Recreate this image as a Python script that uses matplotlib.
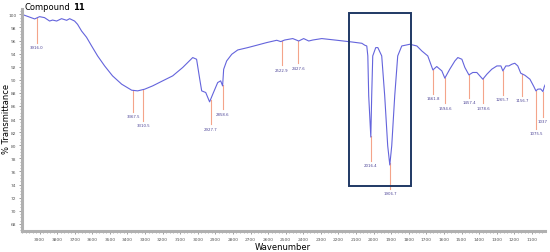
"""FT-IR spectrum of compound 11 with labelled peaks."""
import numpy as np
import matplotlib
matplotlib.use("Agg")
import matplotlib.pyplot as plt
from matplotlib.patches import Rectangle
from matplotlib.ticker import MultipleLocator

# spectrum (wavenumber, %T)
wavenumber = [4000, 3928, 3900, 3872, 3843, 3826, 3803, 3775, 3746, 3729, 3701, 3684,
              3661, 3633, 3604, 3570, 3530, 3485, 3433, 3376, 3342, 3302, 3257, 3200,
              3143, 3086, 3029, 3007, 2989, 2978, 2955, 2933, 2915, 2887, 2870, 2859,
              2853, 2836, 2807, 2773, 2716, 2665, 2608, 2551, 2528, 2506, 2460, 2426,
              2398, 2369, 2346, 2295, 2221, 2124, 2067, 2050, 2039, 2033, 2028, 2016,
              2011, 2005, 1988, 1976, 1954, 1937, 1920, 1908, 1897, 1880, 1863, 1840,
              1794, 1754, 1726, 1692, 1663, 1641, 1612, 1595, 1567, 1538, 1521, 1498,
              1481, 1458, 1436, 1413, 1379, 1356, 1328, 1299, 1276, 1265, 1248, 1231,
              1214, 1197, 1180, 1163, 1140, 1111, 1089, 1077, 1066, 1050, 1037, 1030,
              1025]
transmittance = [100.0, 99.3, 99.65, 99.5, 98.98, 99.13, 98.98, 99.34, 99.09, 99.34, 98.98, 98.48,
                 97.45, 96.5, 95.17, 93.65, 92.12, 90.6, 89.33, 88.41, 88.31, 88.57, 89.07, 89.84,
                 90.6, 91.88, 93.4, 93.14, 90.09, 88.31, 88.06, 86.63, 87.8, 89.58, 89.84, 89.07,
                 91.61, 92.88, 93.9, 94.56, 94.92, 95.28, 95.69, 96.04, 95.84, 96.08, 96.3, 95.93,
                 96.3, 95.93, 96.08, 96.3, 96.08, 95.78, 95.58, 95.28, 95.17, 93.65, 87.55, 81.25,
                 87.55, 93.65, 94.92, 94.92, 93.65, 87.55, 79.93, 76.99, 79.93, 87.55, 93.65, 95.17,
                 95.43, 95.17, 94.41, 93.65, 91.51, 92.03, 91.36, 90.25, 91.62, 92.88, 93.4, 93.14,
                 91.88, 90.75, 91.12, 91.12, 90.09, 90.85, 91.62, 92.12, 92.12, 91.36, 92.12, 92.12,
                 92.38, 92.53, 92.12, 91.0, 90.7, 90.09, 88.98, 88.31, 88.57, 88.6, 88.2, 88.9,
                 89.2]

# peak picks
peak_wn = [3916.0, 3367.5, 3310.5, 2927.7, 2858.6, 2522.9, 2427.6, 2016.4, 1906.7,
           1661.8, 1594.6, 1457.4, 1378.6, 1265.7, 1156.7, 1075.5, 1037.0]
peak_text = ["3916.0", "3367.5", "3310.5", "2927.7", "2858.6", "2522.9", "2427.6",
             "2016.4", "1906.7", "1661.8", "1594.6", "1457.4", "1378.6", "1265.7",
             "1156.7", "1075.5", "1037"]
peak_tip = [95.6, 85.1, 83.7, 83.2, 85.5, 92.2, 92.5, 77.6, 73.3,
            87.8, 86.4, 87.2, 86.4, 87.65, 87.5, 82.5, 84.3]

# highlighted region
box_wn = (2141, 1788)
box_t = (73.8, 100.15)

fig = plt.figure(figsize=(5.5, 2.53), dpi=100)
ax = fig.add_axes([0.04, 0.083, 0.951, 0.877])

wn_desc = np.array(wavenumber)[::-1]
t_desc = np.array(transmittance)[::-1]

for wn, tip, lab in zip(peak_wn, peak_tip, peak_text):
    top = np.interp(wn, wn_desc, t_desc)
    ax.plot([wn, wn], [top, tip], color="#f4a48a", lw=0.8, zorder=1)
    ax.text(wn, tip - 0.35, lab, ha="center", va="top", fontsize=2.8, color="#4b4396")

ax.plot(wavenumber, transmittance, color="#6464dc", lw=0.8, zorder=2)

ax.add_patch(Rectangle((box_wn[1], box_t[0]), box_wn[0] - box_wn[1], box_t[1] - box_t[0],
                       fill=False, edgecolor="#1f3864", lw=1.4, zorder=3))

ax.set_xlim(4000, 1025)
ax.set_ylim(66.9, 100.8)
ax.set_xticks(list(range(3900, 1099, -100)))
ax.set_yticks(list(range(68, 101, 2)))
ax.xaxis.set_minor_locator(MultipleLocator(20))
ax.yaxis.set_minor_locator(MultipleLocator(0.5))

for s in ["top", "right"]:
    ax.spines[s].set_visible(False)
for s in ["left", "bottom"]:
    ax.spines[s].set_color("#b0b0b0")
    ax.spines[s].set_linewidth(2.2)
ax.tick_params(axis="both", which="major", labelsize=3.2, labelcolor="#555555",
               color="#909090", length=2.5, width=0.6, pad=1.5)
ax.tick_params(axis="both", which="minor", color="#909090", length=1.5, width=0.5)

fig.text(0.515, 0.003, "Wavenumber", ha="center", va="bottom", fontsize=6)
fig.text(0.012, 0.53, "% Transmittance", ha="center", va="center", rotation=90, fontsize=6)
t1 = fig.text(0.045, 0.988, "Compound", ha="left", va="top", fontsize=6)
# bold compound number right after the word
ax.annotate("11", xy=(1, 1), xycoords=t1, xytext=(2, 0), textcoords="offset points",
            ha="left", va="top", fontsize=6, fontweight="bold", annotation_clip=False)

fig.savefig("out.png", dpi=100)
